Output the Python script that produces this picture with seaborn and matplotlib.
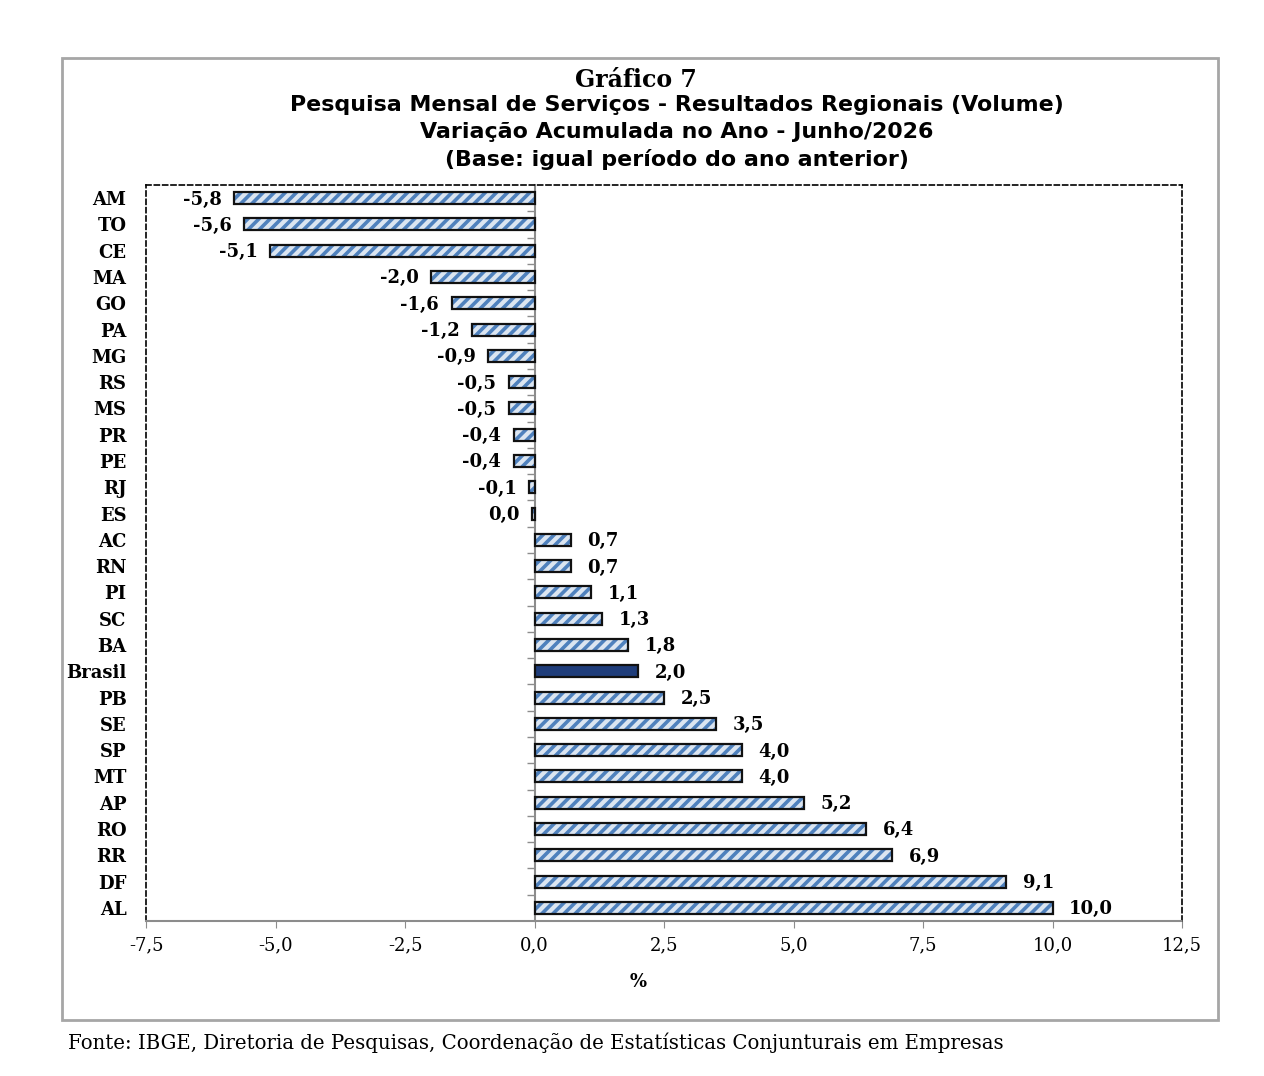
import matplotlib
matplotlib.use("Agg")
import matplotlib.pyplot as plt
import seaborn as sns
import pandas as pd
from matplotlib.patches import Rectangle

# ---- data ----
regions = ["AM", "TO", "CE", "MA", "GO", "PA", "MG", "RS", "MS", "PR", "PE", "RJ", "ES",
           "AC", "RN", "PI", "SC", "BA", "Brasil", "PB", "SE", "SP", "MT", "AP", "RO", "RR", "DF", "AL"]
values = [-5.8, -5.6, -5.1, -2.0, -1.6, -1.2, -0.9, -0.5, -0.5, -0.4, -0.4, -0.1, -0.04,
          0.7, 0.7, 1.1, 1.3, 1.8, 2.0, 2.5, 3.5, 4.0, 4.0, 5.2, 6.4, 6.9, 9.1, 10.0]
xticks = [-7.5, -5.0, -2.5, 0.0, 2.5, 5.0, 7.5, 10.0, 12.5]
title_main = "Gráfico 7"
title_lines = ["Pesquisa Mensal de Serviços - Resultados Regionais (Volume)",
               "Variação Acumulada no Ano - Junho/2026",
               "(Base: igual período do ano anterior)"]
xlabel = "%"
source = "Fonte: IBGE, Diretoria de Pesquisas, Coordenação de Estatísticas Conjunturais em Empresas"

df = pd.DataFrame({"region": regions, "value": values})

LIGHT = "#dbe5f1"
HATCH = "#4f81bd"
NAVY = "#1f3d7a"

sns.set_style("white")
plt.rcParams["font.family"] = ["DejaVu Serif"]
plt.rcParams["hatch.linewidth"] = 2.6
plt.rcParams["text.color"] = "black"
plt.rcParams["axes.labelcolor"] = "black"
plt.rcParams["xtick.color"] = "black"
plt.rcParams["ytick.color"] = "black"

W, H = 1264, 1076
fig = plt.figure(figsize=(W / 100, H / 100), dpi=100)
ax = fig.add_axes([146 / W, 1 - 921 / H, (1182 - 146) / W, (921 - 185) / H])

face = [NAVY if r == "Brasil" else LIGHT for r in regions]
edge_h = [NAVY if r == "Brasil" else HATCH for r in regions]

# layer 1: filled + hatched, no outline
sns.barplot(data=df, x="value", y="region", hue="region", palette=face, legend=False,
            orient="h", width=0.46, linewidth=0, ax=ax, saturation=1)
for p, r, ec in zip(ax.patches, regions, edge_h):
    p.set_edgecolor(ec)
    p.set_linewidth(0)
    if r != "Brasil":
        p.set_hatch("///")
n_first = len(ax.patches)
# layer 2: outline only
sns.barplot(data=df, x="value", y="region", orient="h", width=0.46, fill=False,
            color="black", linewidth=1.6, ax=ax, errorbar=None)
for p in ax.patches[n_first:]:
    p.set_edgecolor("#111111")
    p.set_facecolor("none")
    p.set_hatch(None)

ax.set_xlim(-7.5, 12.5)
ax.set_ylim(len(regions) - 0.5, -0.5)
ax.set_xticks(xticks)
ax.set_xticklabels([f"{t:.1f}".replace(".", ",") for t in xticks], fontsize=13)
ax.tick_params(axis="x", direction="out", length=5, color="#8c8c8c", labelcolor="black",
               pad=6, bottom=True)
ax.tick_params(axis="y", length=0, pad=14, labelcolor="black")
for lab in ax.get_yticklabels():
    lab.set_fontweight("bold")
    lab.set_fontsize(13)
ax.set_ylabel("")
ax.set_xlabel(xlabel, fontsize=13, fontweight="bold")
ax.xaxis.set_label_coords((638 - 146) / 1036, -(973 - 921) / 736)

# spines
for s in ["top", "left", "right"]:
    ax.spines[s].set_visible(True)
    ax.spines[s].set_color("black")
    ax.spines[s].set_linewidth(1.2)
    ax.spines[s].set_linestyle((0, (3, 2)))
ax.spines["bottom"].set_color("#8c8c8c")
ax.spines["bottom"].set_linewidth(1.5)
ax.spines["bottom"].set_linestyle((0, (5, 1)))

# zero axis with category separator ticks
sec = ax.secondary_yaxis(7.5 / 20)
sec.spines["left"].set_color("#8c8c8c")
sec.spines["left"].set_linewidth(1.5)
sec.set_yticks([i + 0.5 for i in range(len(regions) - 1)])
sec.set_yticklabels([])
sec.tick_params(axis="y", direction="out", length=6, color="#8c8c8c", width=1)

# value labels
for i, v in enumerate(values):
    s = f"{abs(v):.1f}" if round(v, 1) == 0 else f"{v:.1f}"
    s = s.replace(".", ",")
    if v < 0:
        ax.annotate(s, (v, i), xytext=(-9, -1), textcoords="offset points",
                    ha="right", va="center", fontsize=13, fontweight="bold")
    else:
        ax.annotate(s, (v, i), xytext=(12, -1), textcoords="offset points",
                    ha="left", va="center", fontsize=13, fontweight="bold")

# titles
fig.text(636 / W, 1 - 80 / H, title_main, ha="center", va="center", fontsize=17,
         fontweight="bold", family=["DejaVu Serif"])
for k, line in enumerate(title_lines):
    fig.text(677 / W, 1 - (105 + 27.5 * k) / H, line, ha="center", va="center", fontsize=15.9,
             fontweight="bold", family=["DejaVu Sans"])

fig.text(68 / W, 1 - 1043 / H, source, ha="left", va="center", fontsize=14.2, family=["DejaVu Serif"])

fig.patches.append(Rectangle((62 / W, 1 - 1020 / H), (1218 - 62) / W, (1020 - 58) / H,
                             transform=fig.transFigure, fill=False, edgecolor="#a6a6a6",
                             linewidth=2))

fig.savefig("out.png", dpi=100, facecolor="white")
